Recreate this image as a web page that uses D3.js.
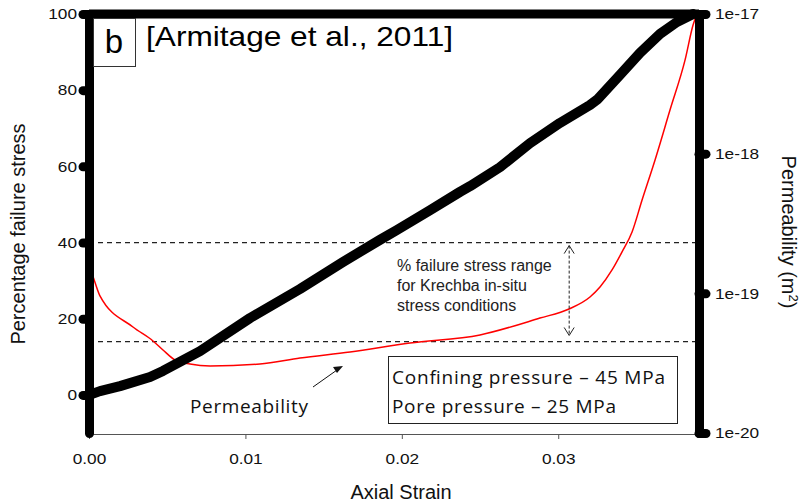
<!DOCTYPE html>
<html>
<head>
<meta charset="utf-8">
<script src="https://cdn.jsdelivr.net/npm/d3@7"></script>
<style>
  body { margin: 0; background: #fff; }
  svg { display: block; }
</style>
</head>
<body>
<div class="chart"></div>
<script>
// stress-strain curve (black), % of failure stress vs axial strain
const stressStrain = [0, 0.0007, 0.00198, 0.0039, 0.00473, 0.0071, 0.0103, 0.01349, 0.01624, 0.0186,
    0.01969, 0.0218, 0.02372, 0.02436, 0.02628, 0.0282, 0.03011, 0.03203, 0.03254, 0.03395,
    0.03523, 0.03651, 0.03759, 0.03862];
const stressPct = [0, 1.0, 2.3, 4.7, 6.3, 11.5, 20.2, 27.8, 34.9, 40.7,
    43.3, 48.5, 53.3, 54.8, 59.8, 66.1, 71.4, 76.1, 77.7, 84.0,
    89.8, 94.8, 97.9, 100];

// permeability curve (red), m^2 vs axial strain
const permStrain = [0, 0.00038, 0.0007, 0.00281, 0.00409, 0.00473, 0.0055, 0.00646, 0.00774, 0.01093,
    0.01349, 0.01669, 0.02052, 0.025, 0.02883, 0.03069, 0.03203, 0.03267, 0.03344, 0.03408,
    0.03472, 0.03536, 0.03619, 0.03715, 0.03811, 0.03862, 0.03887];
const permValue = [1.62e-19, 1.2e-19, 9.6e-20, 5.74e-20, 4.56e-20, 3.93e-20, 3.33e-20, 3.12e-20, 3.02e-20, 3.12e-20,
    3.44e-20, 3.80e-20, 4.41e-20, 5.04e-20, 6.65e-20, 7.73e-20, 9.42e-20, 1.11e-19, 1.47e-19, 1.98e-19,
    2.75e-19, 4.66e-19, 9.02e-19, 2.06e-18, 4.69e-18, 8.34e-18, 1e-17];

const xTicks = [0, 0.01, 0.02, 0.03];
const yTicks = [0, 20, 40, 60, 80, 100];
const permTicks = [1e-20, 1e-19, 1e-18, 1e-17];
const rangeLines = [40, 14]; // % failure stress range for Krechba

const width = 801, height = 504;
const margin = {top: 14, left: 89, right: 102, bottom: 71};
const sans = "'Liberation Sans', Arial, sans-serif";
const calib = "'Open Sans', 'Noto Sans', sans-serif";
const sx = 1.15; // the original text is a bit wide

const svg = d3.select('.chart').append('svg')
    .attr("width", width)
    .attr("height", height);

const xScale = d3.scaleLinear()
    .domain([0, 0.039])
    .range([margin.left, width - margin.right]);

const yScale = d3.scaleLinear()
    .domain([-10, 100])
    .range([height - margin.bottom, margin.top]);

const permScale = d3.scaleLog()
    .domain([1e-20, 1e-17])
    .range([height - margin.bottom, margin.top]);

// thin bottom axis
const xAxis = d3.axisBottom(xScale)
    .tickValues(xTicks)
    .tickFormat(d3.format(".2f"))
    .tickSize(5)
    .tickSizeOuter(0)
    .tickPadding(14);

const gx = svg.append("g")
    .attr("class", "axis x-axis")
    .attr("transform", `translate(0, ${yScale(-10) + 1})`)
    .call(xAxis);
gx.select(".domain").attr("stroke", "#555");
gx.selectAll(".tick line").attr("stroke", "#555");

// dashed range lines
svg.selectAll(".range-line")
    .data(rangeLines)
    .enter()
    .append("line")
    .attr("class", "range-line")
    .attr("x1", xScale(0))
    .attr("x2", xScale(0.039))
    .attr("y1", d => yScale(d))
    .attr("y2", d => yScale(d))
    .attr("stroke", "#222")
    .attr("stroke-width", 1.3)
    .attr("stroke-dasharray", "5,4");

// red permeability line
const permLine = d3.line()
    .x(d => xScale(d[0]))
    .y(d => permScale(d[1]))
    .curve(d3.curveMonotoneX);

svg.append("path")
    .datum(permStrain.map((s, i) => [s, permValue[i]]))
    .attr("d", permLine)
    .attr("fill", "none")
    .attr("stroke", "#f00")
    .attr("stroke-width", 1.5);

// black stress-strain line
const stressLine = d3.line()
    .x(d => xScale(d[0]))
    .y(d => yScale(d[1]));

svg.append("path")
    .datum(stressStrain.map((s, i) => [s, stressPct[i]]))
    .attr("d", stressLine)
    .attr("fill", "none")
    .attr("stroke", "#000")
    .attr("stroke-width", 10)
    .attr("stroke-linejoin", "round")
    .attr("stroke-linecap", "round");

// thick frame: top line
svg.append("line")
    .attr("x1", xScale(0))
    .attr("x2", xScale(0.039))
    .attr("y1", yScale(100))
    .attr("y2", yScale(100))
    .attr("stroke", "#000")
    .attr("stroke-width", 9);

// thick left axis
const yAxis = d3.axisLeft(yScale)
    .tickValues(yTicks)
    .tickSize(6)
    .tickSizeOuter(0)
    .tickPadding(6);

const gy = svg.append("g")
    .attr("class", "axis y-axis")
    .attr("transform", `translate(${xScale(0)},0)`)
    .call(yAxis);

// thick right axis (log)
const permAxis = d3.axisRight(permScale)
    .tickValues(permTicks)
    .tickFormat(d => "1e" + Math.round(Math.log10(d)))
    .tickSize(7)
    .tickSizeOuter(0)
    .tickPadding(9);

const gp = svg.append("g")
    .attr("class", "axis perm-axis")
    .attr("transform", `translate(${xScale(0.039)},0)`)
    .call(permAxis);

[gy, gp].forEach(g => {
    g.select(".domain")
        .attr("stroke", "#000")
        .attr("stroke-width", 9)
        .attr("stroke-linecap", "round");
    g.selectAll(".tick line")
        .attr("stroke", "#000")
        .attr("stroke-width", 9)
        .attr("stroke-linecap", "round");
});

[gx, gy, gp].forEach(g => {
    g.selectAll(".tick text")
        .style("font-family", sans)
        .style("font-size", "15px")
        .style("fill", "#111")
        .attr("x", function() { return (+d3.select(this).attr("x") || 0) / sx; })
        .attr("transform", `scale(${sx},1)`);
});

// axis titles
svg.append("text")
    .attr("x", 401)
    .attr("y", 499)
    .attr("text-anchor", "middle")
    .style("font-family", sans)
    .style("font-size", "20px")
    .attr("fill", "#111")
    .text("Axial Strain");

svg.append("text")
    .attr("transform", "translate(25,234)rotate(-90)")
    .attr("text-anchor", "middle")
    .style("font-family", sans)
    .style("font-size", "20px")
    .attr("fill", "#111")
    .text("Percentage failure stress");

const permTitle = svg.append("text")
    .attr("transform", "translate(782,232)rotate(90)")
    .attr("text-anchor", "middle")
    .style("font-family", sans)
    .style("font-size", "20px")
    .attr("fill", "#111");
permTitle.append("tspan").text("Permeability (m");
permTitle.append("tspan").attr("baseline-shift", "super").style("font-size", "13px").text("2");
permTitle.append("tspan").text(")");

// panel label box
svg.append("rect")
    .attr("x", 93.5)
    .attr("y", 18.5)
    .attr("width", 42)
    .attr("height", 48)
    .attr("fill", "#fff")
    .attr("stroke", "#333");

svg.append("text")
    .attr("x", 114)
    .attr("y", 53)
    .attr("text-anchor", "middle")
    .style("font-family", sans)
    .style("font-size", "33px")
    .text("b");

svg.append("text")
    .attr("transform", `translate(146,46)scale(${sx - 0.02},1)`)
    .style("font-family", sans)
    .style("font-size", "28px")
    .text("[Armitage et al., 2011]");

// range annotation
const note = svg.append("text")
    .style("font-family", sans)
    .style("font-size", "16px")
    .attr("fill", "#222");
["% failure stress range", "for Krechba in-situ", "stress conditions"].forEach((t, i) => {
    note.append("tspan")
        .attr("x", 397)
        .attr("y", 271 + i * 20)
        .text(t);
});

const ax = xScale(0.0307);
const yTop = yScale(39.2), yBot = yScale(15.6);
svg.append("line")
    .attr("x1", ax).attr("x2", ax)
    .attr("y1", yTop).attr("y2", yBot)
    .attr("stroke", "#222")
    .attr("stroke-dasharray", "3,2");
svg.append("path")
    .attr("d", `M${ax-5},${yTop+8}L${ax},${yTop}L${ax+5},${yTop+8}M${ax-5},${yBot-8}L${ax},${yBot}L${ax+5},${yBot-8}`)
    .attr("fill", "none")
    .attr("stroke", "#222");

// pressure box
svg.append("rect")
    .attr("x", 388.5)
    .attr("y", 356.5)
    .attr("width", 289)
    .attr("height", 67)
    .attr("fill", "#fff")
    .attr("stroke", "#222");

const boxLines = [["Confining pressure \u2013 45 MPa", 273], ["Pore pressure \u2013 25 MPa", 224]];
const box = svg.append("text")
    .style("font-family", calib)
    .style("font-size", "19px")
    .attr("fill", "#111");
boxLines.forEach((t, i) => {
    box.append("tspan")
        .attr("x", 392)
        .attr("y", 384 + i * 29)
        .attr("textLength", t[1])
        .text(t[0]);
});

// permeability pointer
svg.append("text")
    .attr("x", 190)
    .attr("y", 413)
    .attr("textLength", 118)
    .style("font-family", calib)
    .style("font-size", "19px")
    .attr("fill", "#111")
    .text("Permeability");

svg.append("line")
    .attr("x1", 313).attr("y1", 387)
    .attr("x2", 337).attr("y2", 370)
    .attr("stroke", "#111");
svg.append("path")
    .attr("d", "M343,366L333,367L337,373Z")
    .attr("fill", "#111");
</script>
</body>
</html>
